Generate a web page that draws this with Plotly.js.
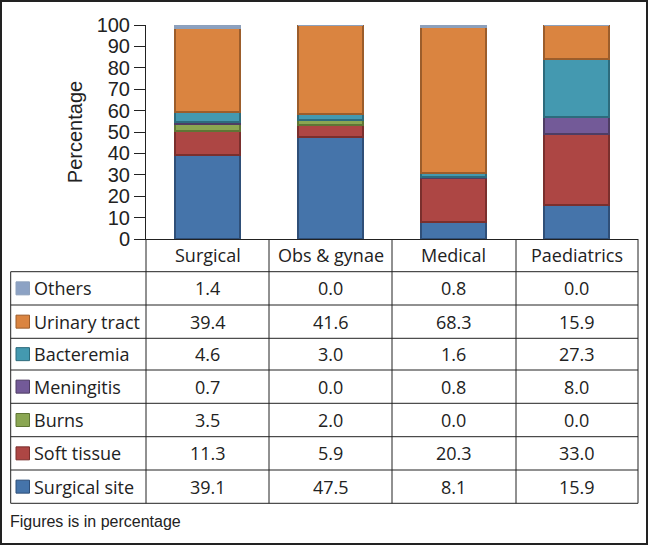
<!DOCTYPE html>
<html><head><meta charset="utf-8">
<script src="https://cdn.plot.ly/plotly-3.0.1.min.js"></script>
<style>html,body{margin:0;padding:0;background:#fff}#chart{width:648px;height:545px}</style>
</head><body><div id="chart"></div>
<script>
var categories = ["Surgical", "Obs & gynae", "Medical", "Paediatrics"];
var surgicalSite = [39.1, 47.5, 8.1, 15.9];
var softTissue   = [11.3, 5.9, 20.3, 33.0];
var burns        = [3.5, 2.0, 0.0, 0.0];
var meningitis   = [0.7, 0.0, 0.8, 8.0];
var bacteremia   = [4.6, 3.0, 1.6, 27.3];
var urinaryTract = [39.4, 41.6, 68.3, 15.9];
var others       = [1.4, 0.0, 0.8, 0.0];
var seriesNames  = ["Surgical site", "Soft tissue", "Burns", "Meningitis", "Bacteremia", "Urinary tract", "Others"];
var yTickVals    = [0,10,20,30,40,50,60,70,80,90,100];

var seriesData = [surgicalSite, softTissue, burns, meningitis, bacteremia, urinaryTract, others];
var fills  = ["#4574AA", "#AD4644", "#8AA652", "#735A98", "#4499B0", "#DA8440", "#8CA2C4"];
var lines  = ["#2f4f78", "#7a2f2d", "#5f7535", "#4e3d64", "#2d6b7c", "#9c5d2b", "#8da0bb"];

var traces = seriesData.map(function(d, i){
  return {type:"bar", x:categories, y:d, name:seriesNames[i],
    marker:{color:fills[i], line:{color:lines[i], width:2}}, hoverinfo:"none"};
});

var L=146, R=638, T=25, B=239;
function px(x){ return (x-L)/(R-L); }
function py(y){ return (B-y)/(B-T); }

var shapes = [], ann = [];
var tfont = {family:"'Open Sans', sans-serif", size:18, color:"#222"};
var colX = [146, 269, 392, 516, 638];
var rowY = [271.7, 305, 338.3, 370, 403.3, 436.7, 470, 503.3];
var lineStyle = {color:"#222", width:1};

colX.forEach(function(x){
  shapes.push({type:"line", xref:"paper", yref:"paper", x0:px(x), x1:px(x), y0:py(239), y1:py(503.3), line:lineStyle});
});
shapes.push({type:"line", xref:"paper", yref:"paper", x0:px(10.7), x1:px(10.7), y0:py(271.7), y1:py(503.3), line:lineStyle});
rowY.forEach(function(y){
  shapes.push({type:"line", xref:"paper", yref:"paper", x0:px(10.7), x1:px(638), y0:py(y), y1:py(y), line:lineStyle});
});
categories.forEach(function(c){
  ann.push({xref:"x", yref:"paper", x:c, y:py(255.5), text:c, showarrow:false, font:tfont, xanchor:"center", yanchor:"middle"});
});
for (var r = 0; r < 7; r++) {
  var si = 6 - r;
  var yc = (rowY[r] + rowY[r+1]) / 2;
  shapes.push({type:"rect", xref:"paper", yref:"paper", x0:px(16), x1:px(29.5), y0:py(yc-6.5), y1:py(yc+6.5),
    fillcolor:fills[si], line:{color:lines[si], width:1}});
  ann.push({xref:"paper", yref:"paper", x:px(32), y:py(yc), text:seriesNames[si], showarrow:false, font:tfont, xanchor:"left", yanchor:"middle"});
  for (var j = 0; j < categories.length; j++) {
    ann.push({xref:"x", yref:"paper", x:categories[j], y:py(yc), text:seriesData[si][j].toFixed(1), showarrow:false, font:tfont, xanchor:"center", yanchor:"middle"});
  }
}
ann.push({xref:"paper", yref:"paper", x:px(8), y:py(521), text:"Figures is in percentage", showarrow:false,
  font:{family:"Liberation Sans, Arial, sans-serif", size:16, color:"#222"}, xanchor:"left", yanchor:"middle"});
shapes.push({type:"rect", xref:"paper", yref:"paper", x0:px(1), x1:px(647), y0:py(1), y1:py(544), line:{color:"#222", width:2}, fillcolor:"rgba(0,0,0,0)"});

var layout = {
  width:648, height:545, barmode:"stack", bargap:0.47, showlegend:false,
  margin:{l:L, r:648-R, t:T, b:545-B, pad:0},
  paper_bgcolor:"#fff", plot_bgcolor:"#fff",
  xaxis:{type:"category", showticklabels:false, showline:true, linecolor:"#222", linewidth:1, ticks:"", showgrid:false, zeroline:false, fixedrange:true},
  yaxis:{range:[0,100], tickvals:yTickVals, showline:true, linecolor:"#222", linewidth:1, ticks:"outside", ticklen:11, tickcolor:"#222",
    showgrid:false, zeroline:false, tickfont:{family:"Liberation Sans, Arial, sans-serif", size:20, color:"#222"},
    title:{text:"Percentage", font:{family:"Liberation Sans, Arial, sans-serif", size:20, color:"#222"}, standoff:8}, fixedrange:true},
  shapes:shapes, annotations:ann
};
Plotly.newPlot("chart", traces, layout, {displayModeBar:false, staticPlot:true});
</script></body></html>
